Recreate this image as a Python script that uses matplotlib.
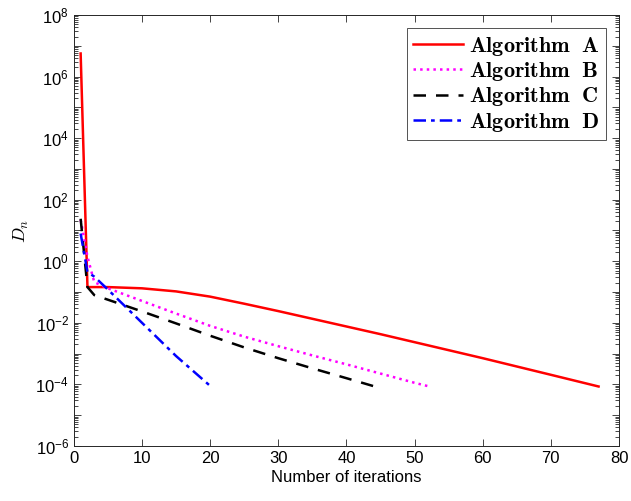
import numpy as np
import matplotlib
matplotlib.use("Agg")
import matplotlib.pyplot as plt
from matplotlib.ticker import FixedLocator, NullFormatter, FuncFormatter

# values (log10 of D_n)
x_a = [1, 2, 5, 10, 15, 20, 25, 30, 35, 40, 45, 50, 55, 60, 65, 70, 77]
log_a = [6.75, -0.84, -0.84, -0.88, -0.98, -1.15, -1.38, -1.62, -1.87, -2.12,
         -2.37, -2.63, -2.89, -3.15, -3.42, -3.69, -4.07]

x_b = [1, 2, 3, 5, 10, 15, 20, 25, 30, 35, 40, 45, 50, 52]
log_b = [1.35, 0.15, -0.68, -0.88, -1.29, -1.7, -2.1, -2.45, -2.76, -3.06,
         -3.35, -3.65, -3.95, -4.06]

x_c = [1, 2, 3, 5, 10, 15, 20, 25, 30, 35, 40, 44]
log_c = [1.38, -0.84, -1.1, -1.25, -1.63, -2.02, -2.42, -2.8, -3.15, -3.48,
         -3.8, -4.06]

x_d = [1, 2, 3, 5, 10, 15, 20]
log_d = [0.9, -0.35, -0.5, -0.92, -2.0, -3.08, -4.05]

labels = ["A", "B", "C", "D"]

plt.rcParams['mathtext.fontset'] = 'cm'
plt.rcParams['font.family'] = 'Liberation Sans'

fig = plt.figure(figsize=(6.31, 5.01), dpi=100)
ax = fig.add_axes([0.117, 0.110, 0.864, 0.860])

styles = [('red', '-'), ('magenta', ':'), ('black', (0, (5, 4))), ('blue', (0, (5, 2, 1.5, 2)))]
series = [(x_a, log_a), (x_b, log_b), (x_c, log_c), (x_d, log_d)]
for (xs, ls_), (col, ls), lab in zip(series, styles, labels):
    ax.semilogy(xs, 10.0 ** np.array(ls_), color=col, lw=1.8, ls=ls,
                label=r'$\mathbf{Algorithm\;\ %s}$' % lab)

ax.set_xlim(0, 80)
ax.set_ylim(1e-6, 1e8)
ax.set_xticks(np.arange(0, 81, 10))

ax.yaxis.set_major_locator(FixedLocator([10.0 ** k for k in range(-6, 9)]))
ax.yaxis.set_minor_locator(FixedLocator([m * 10.0 ** k for k in range(-6, 8) for m in range(2, 10)]))
ax.yaxis.set_minor_formatter(NullFormatter())
ax.yaxis.set_major_formatter(FuncFormatter(
    lambda v, p: r'$\mathregular{10^{%d}}$' % round(np.log10(v)) if round(np.log10(v)) % 2 == 0 else ''))

ax.tick_params(which='both', direction='in', top=True, right=True,
               labelsize=12, color='#262626', labelcolor='black')
ax.tick_params(which='major', length=5, width=0.6)
ax.tick_params(which='minor', length=3, width=0.6)
for s in ax.spines.values():
    s.set_color('#262626')
    s.set_linewidth(0.7)

ax.set_xlabel('Number of iterations', fontsize=12, labelpad=3)
ax.set_ylabel(r'$D_n$', fontsize=13, labelpad=3)

leg = ax.legend(loc='upper right', fontsize=16, frameon=True, fancybox=False,
                edgecolor='#262626', handlelength=2.25, handletextpad=0.25,
                borderaxespad=0.6, labelspacing=0.1, borderpad=0.3)
leg.get_frame().set_linewidth(0.7)

fig.savefig('out.png', dpi=100)
